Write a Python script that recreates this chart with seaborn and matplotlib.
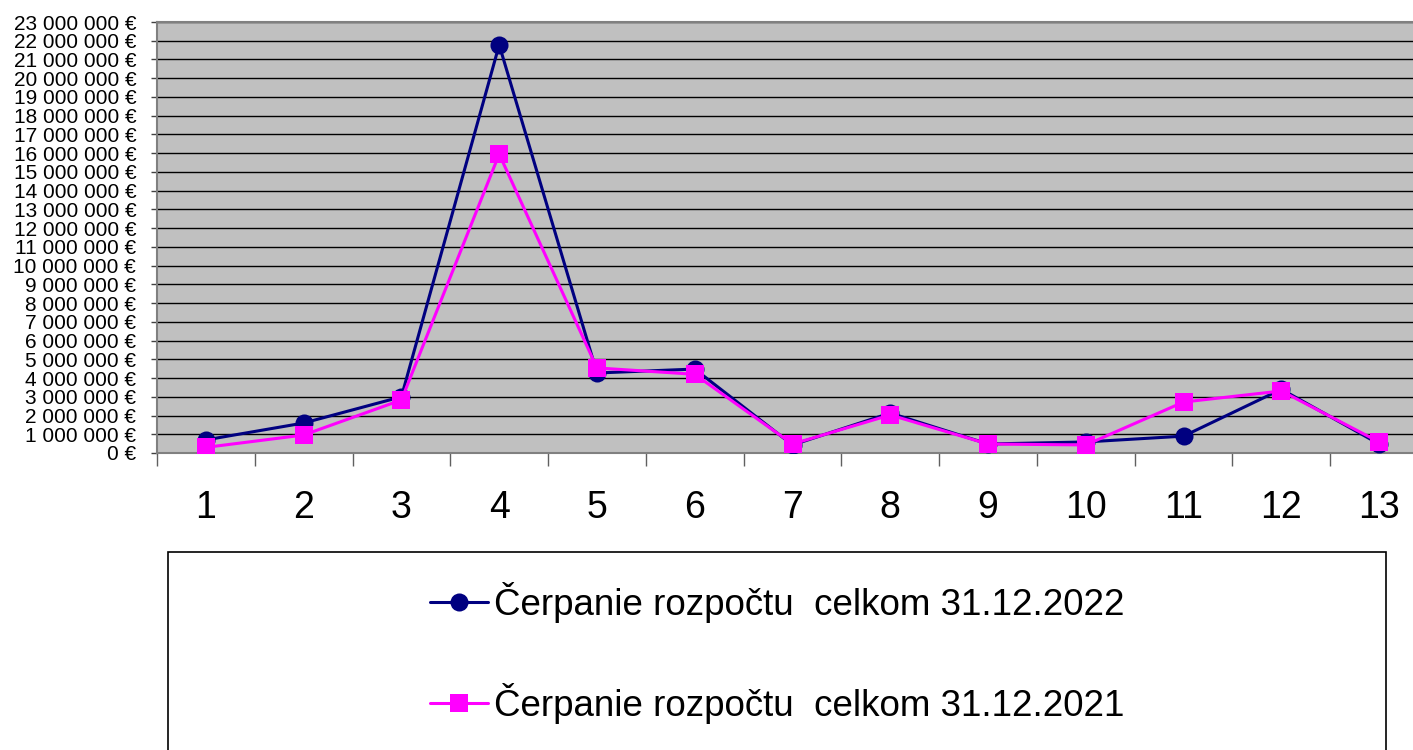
import matplotlib
matplotlib.use("Agg")
import matplotlib.pyplot as plt
import matplotlib.ticker as mticker
from matplotlib.patches import Rectangle
import seaborn as sns
import pandas as pd

categories = ["1", "2", "3", "4", "5", "6", "7", "8", "9", "10", "11", "12", "13"]
values_2022 = [700000, 1600000, 3000000, 21780000, 4270000, 4480000, 430000,
               2130000, 480000, 590000, 900000, 3400000, 480000]
values_2021 = [300000, 960000, 2830000, 15950000, 4540000, 4200000, 480000,
               2030000, 480000, 430000, 2720000, 3310000, 590000]
label_2022 = "Čerpanie rozpočtu  celkom 31.12.2022"
label_2021 = "Čerpanie rozpočtu  celkom 31.12.2021"

sns.set_style("white")
plt.rcParams["font.family"] = ["Liberation Sans", "DejaVu Sans"]
plt.rcParams["text.color"] = "black"
plt.rcParams["xtick.labelcolor"] = "black"
plt.rcParams["ytick.labelcolor"] = "black"

df = pd.DataFrame({"x": list(range(len(categories))),
                   "v2022": values_2022, "v2021": values_2021})

fig = plt.figure(figsize=(14.13, 7.5), dpi=100)
ax = fig.add_axes([157 / 1413, 297 / 750, 1271 / 1413, 431 / 750])
ax.set_facecolor("#C0C0C0")

sns.lineplot(data=df, x="x", y="v2022", ax=ax, color="#000080", lw=2.2,
             marker="o", markersize=13, markeredgewidth=0, label=label_2022, zorder=3)
sns.lineplot(data=df, x="x", y="v2021", ax=ax, color="#FF00FF", lw=2.2,
             marker="s", markersize=12.5, markeredgewidth=0, label=label_2021, zorder=4)

ax.set_xlim(-0.5, len(categories) - 0.5)
ax.set_ylim(0, 23000000)
ax.yaxis.set_major_locator(mticker.MultipleLocator(1000000))
ax.yaxis.set_major_formatter(mticker.FuncFormatter(
    lambda v, p: "{:,} €".format(int(round(v))).replace(",", " ")))
ax.yaxis.grid(True, color="black", lw=1)
ax.set_axisbelow(True)

ax.set_xticks([i - 0.5 for i in range(len(categories) + 1)])
ax.set_xticklabels([])
ax.set_xticks(list(range(len(categories))), minor=True)
ax.set_xticklabels(categories, minor=True)
ax.tick_params(axis="x", which="major", direction="out", length=9, width=1,
               color="#606060", bottom=True)
ax.tick_params(axis="x", which="minor", length=0, labelsize=27, pad=27,
               labelcolor="black")
ax.tick_params(axis="y", direction="out", length=4, width=1, color="#404040",
               labelsize=15, pad=11, left=True, labelcolor="black")
ax.set_xlabel("")
ax.set_ylabel("")
for s in ["left", "bottom", "top", "right"]:
    ax.spines[s].set_color("#808080")
    ax.spines[s].set_linewidth(1.5)

ax.get_legend().remove()
box = Rectangle((168 / 1413, -0.05), (1386 - 168) / 1413, (750 - 552) / 750 + 0.05,
                transform=fig.transFigure, facecolor="white", edgecolor="black",
                lw=1.2, zorder=0)
fig.patches.append(box)
h, l = ax.get_legend_handles_labels()
leg = fig.legend(h, l, loc="center", bbox_to_anchor=(777 / 1413, (750 - 653) / 750),
                 frameon=False, fontsize=26.5, handlelength=1.6, handletextpad=0.15,
                 labelspacing=1.65, borderpad=0)
for t in leg.get_texts():
    t.set_color("black")

fig.savefig("out.png", dpi=100)
